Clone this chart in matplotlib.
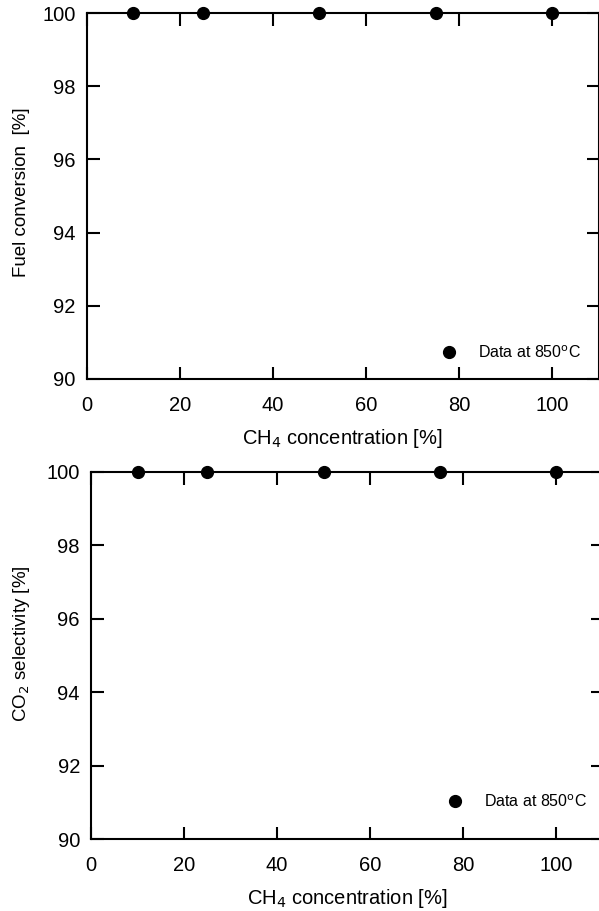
import matplotlib
matplotlib.use("Agg")
import matplotlib.pyplot as plt

plt.rcParams['font.family'] = ['Liberation Sans', 'DejaVu Sans']

ch4_conc = [10, 25, 50, 75, 100]
fuel_conversion = [100, 100, 100, 100, 100]
co2_selectivity = [100, 100, 100, 100, 100]

x_ticks = [0, 20, 40, 60, 80, 100]
y_ticks = [90, 92, 94, 96, 98, 100]

fig = plt.figure(figsize=(5.99, 9.11), dpi=100)
ax1 = fig.add_axes([0.1452, 0.584, 0.854, 0.4017])
ax2 = fig.add_axes([0.152, 0.079, 0.854, 0.403])


def style_axes(ax, y, ylabel, ylabel_pos, leg_anchor):
    ax.plot(ch4_conc, y, 'o', color='black', markersize=8.5, clip_on=False,
            zorder=5, label='Data at 850$^{\\rm o}$C')
    ax.set_xlim(0, 110)
    ax.set_ylim(90, 100)
    ax.set_xticks(x_ticks)
    ax.set_yticks(y_ticks)
    ax.tick_params(direction='in', length=9, width=1.5, top=True, right=True,
                   labelsize=14.5)
    ax.tick_params(axis='x', pad=12)
    ax.tick_params(axis='y', pad=8)
    for s in ax.spines.values():
        s.set_linewidth(1.5)
    ax.set_xlabel('CH$_4$ concentration [%]', fontsize=14.5, labelpad=9)
    ax.set_ylabel(ylabel, fontsize=13.5)
    ax.yaxis.set_label_coords(*ylabel_pos)
    ax.legend(loc='lower left', bbox_to_anchor=leg_anchor, frameon=False,
              fontsize=11.5, handletextpad=0.8, borderaxespad=0)


style_axes(ax1, fuel_conversion, 'Fuel conversion  [%]', (-0.112, 0.511),
           (0.664, 0.032))
style_axes(ax2, co2_selectivity, 'CO$_2$ selectivity [%]', (-0.115, 0.533),
           (0.668, 0.062))

fig.savefig('out.png', dpi=100)
